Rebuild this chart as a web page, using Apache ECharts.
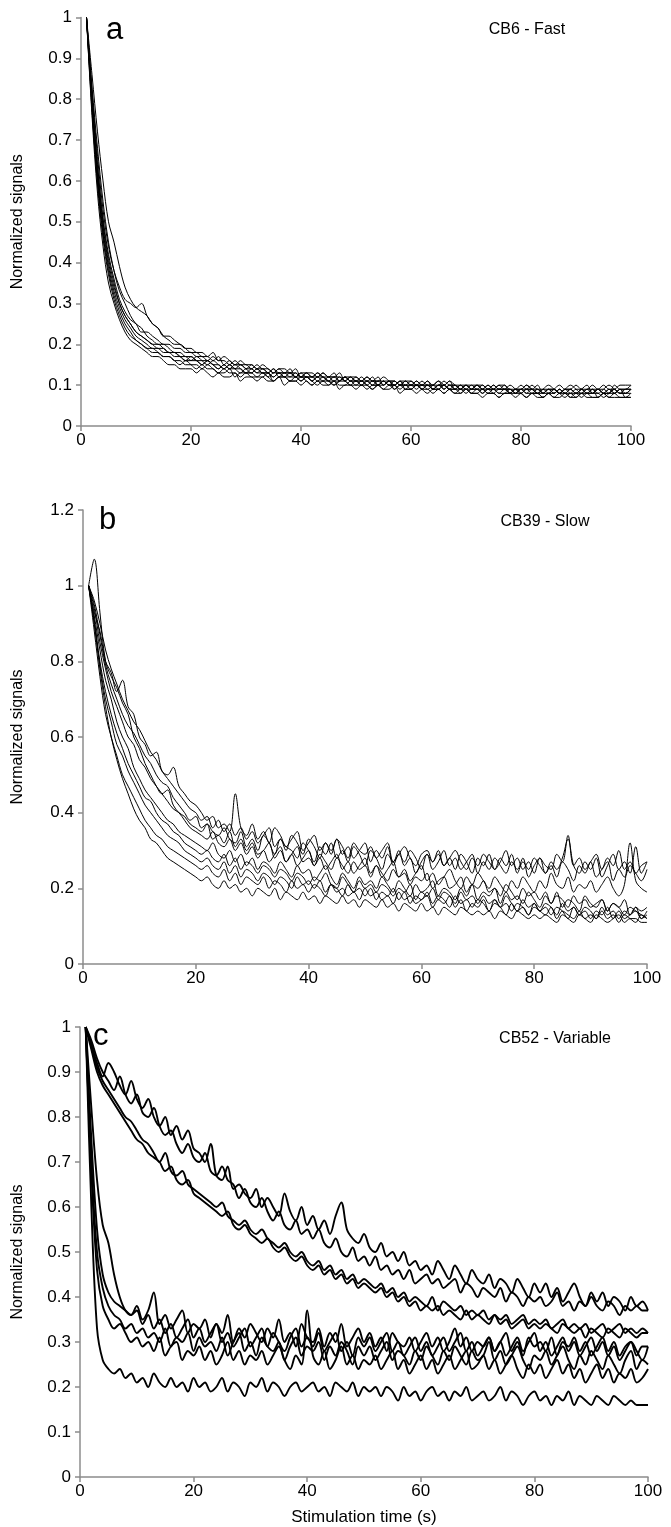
<!DOCTYPE html>
<html><head><meta charset="utf-8">
<script src="https://cdn.jsdelivr.net/npm/echarts@6/dist/echarts.min.js"></script>
<style>html,body{margin:0;padding:0;background:#fff}#c{width:671px;height:1527px}</style>
</head><body><div id="c"></div>
<script>
const times = [1,2,3,4,5,6,7,8,9,10,11,12,13,14,15,16,17,18,19,20,21,22,23,24,25,26,27,28,29,30,31,32,33,34,35,36,37,38,39,40,41,42,43,44,45,46,47,48,49,50,51,52,53,54,55,56,57,58,59,60,61,62,63,64,65,66,67,68,69,70,71,72,73,74,75,76,77,78,79,80,81,82,83,84,85,86,87,88,89,90,91,92,93,94,95,96,97,98,99,100];
const xTicks = [0,20,40,60,80,100];

// Panel a: CB6 - Fast
const a1 = [1,0.79,0.61,0.48,0.39,0.33,0.29,0.26,0.24,0.22,0.21,0.2,0.19,0.19,0.18,0.18,0.17,0.17,0.16,0.16,0.16,0.15,0.16,0.15,0.14,0.15,0.14,0.14,0.15,0.14,0.13,0.14,0.13,0.13,0.14,0.12,0.13,0.13,0.12,0.13,0.12,0.12,0.13,0.12,0.11,0.12,0.12,0.11,0.12,0.11,0.11,0.12,0.11,0.11,0.1,0.11,0.11,0.1,0.11,0.1,0.1,0.11,0.1,0.1,0.11,0.1,0.09,0.1,0.1,0.09,0.1,0.09,0.1,0.09,0.09,0.1,0.09,0.09,0.08,0.09,0.09,0.09,0.08,0.09,0.09,0.08,0.09,0.08,0.09,0.08,0.09,0.08,0.08,0.09,0.08,0.08,0.09,0.08,0.08,0.08];
const a2 = [1,0.86,0.72,0.6,0.5,0.45,0.39,0.34,0.31,0.29,0.28,0.27,0.25,0.24,0.22,0.22,0.21,0.2,0.19,0.19,0.18,0.18,0.17,0.18,0.16,0.17,0.16,0.15,0.16,0.15,0.15,0.14,0.15,0.14,0.13,0.14,0.14,0.13,0.13,0.12,0.13,0.12,0.13,0.12,0.12,0.13,0.11,0.12,0.12,0.11,0.12,0.11,0.11,0.12,0.1,0.11,0.11,0.1,0.11,0.11,0.1,0.1,0.11,0.09,0.1,0.1,0.11,0.09,0.1,0.1,0.09,0.1,0.09,0.1,0.09,0.09,0.1,0.08,0.09,0.09,0.1,0.09,0.08,0.09,0.1,0.09,0.08,0.09,0.09,0.08,0.09,0.1,0.08,0.09,0.09,0.08,0.1,0.09,0.09,0.1];
const a3 = [1,0.76,0.57,0.44,0.35,0.3,0.26,0.23,0.21,0.2,0.19,0.18,0.17,0.17,0.16,0.15,0.15,0.14,0.14,0.14,0.13,0.14,0.13,0.12,0.13,0.12,0.12,0.13,0.11,0.12,0.12,0.11,0.12,0.11,0.11,0.12,0.1,0.11,0.11,0.1,0.11,0.1,0.11,0.1,0.1,0.11,0.09,0.1,0.1,0.09,0.1,0.1,0.09,0.1,0.09,0.09,0.1,0.08,0.09,0.09,0.08,0.09,0.09,0.08,0.09,0.08,0.09,0.08,0.08,0.09,0.08,0.08,0.07,0.08,0.08,0.07,0.08,0.08,0.07,0.08,0.07,0.08,0.07,0.07,0.08,0.07,0.07,0.08,0.07,0.07,0.08,0.07,0.07,0.07,0.08,0.07,0.07,0.07,0.07,0.07];
const a4 = [1,0.82,0.66,0.53,0.44,0.38,0.34,0.31,0.3,0.29,0.3,0.27,0.25,0.24,0.22,0.21,0.2,0.2,0.19,0.18,0.18,0.17,0.17,0.16,0.17,0.15,0.16,0.15,0.15,0.14,0.15,0.14,0.14,0.13,0.14,0.13,0.13,0.14,0.12,0.13,0.13,0.12,0.12,0.13,0.12,0.12,0.11,0.12,0.11,0.12,0.11,0.11,0.12,0.1,0.11,0.11,0.1,0.11,0.1,0.1,0.11,0.1,0.1,0.09,0.1,0.1,0.11,0.1,0.09,0.1,0.09,0.1,0.1,0.09,0.1,0.09,0.09,0.1,0.09,0.08,0.09,0.09,0.1,0.08,0.09,0.09,0.08,0.09,0.1,0.09,0.08,0.09,0.09,0.08,0.09,0.1,0.09,0.08,0.09,0.09];
const a5 = [1,0.8,0.63,0.5,0.41,0.35,0.3,0.27,0.25,0.23,0.22,0.21,0.2,0.19,0.19,0.18,0.18,0.17,0.17,0.16,0.17,0.16,0.15,0.16,0.15,0.14,0.15,0.14,0.14,0.13,0.14,0.13,0.14,0.13,0.12,0.13,0.12,0.13,0.12,0.12,0.12,0.11,0.12,0.12,0.11,0.11,0.12,0.11,0.1,0.11,0.11,0.1,0.11,0.1,0.11,0.1,0.1,0.11,0.09,0.1,0.1,0.09,0.1,0.1,0.09,0.1,0.09,0.09,0.1,0.09,0.09,0.09,0.08,0.09,0.09,0.08,0.09,0.09,0.08,0.09,0.08,0.08,0.09,0.08,0.08,0.09,0.08,0.07,0.08,0.08,0.09,0.08,0.08,0.08,0.07,0.08,0.09,0.08,0.08,0.09];
const a6 = [1,0.77,0.6,0.47,0.38,0.32,0.28,0.25,0.23,0.21,0.2,0.19,0.18,0.18,0.17,0.17,0.16,0.16,0.15,0.15,0.15,0.14,0.15,0.14,0.13,0.14,0.13,0.13,0.12,0.13,0.13,0.12,0.12,0.13,0.11,0.12,0.12,0.11,0.12,0.11,0.12,0.11,0.1,0.11,0.11,0.1,0.11,0.11,0.1,0.1,0.11,0.1,0.09,0.1,0.1,0.11,0.09,0.1,0.1,0.09,0.1,0.09,0.1,0.09,0.09,0.1,0.09,0.08,0.09,0.09,0.08,0.09,0.09,0.08,0.09,0.08,0.08,0.09,0.08,0.08,0.09,0.08,0.08,0.07,0.08,0.08,0.09,0.08,0.08,0.07,0.08,0.08,0.09,0.07,0.08,0.08,0.08,0.09,0.07,0.08];
const a7 = [1,0.81,0.64,0.51,0.42,0.36,0.31,0.28,0.26,0.25,0.23,0.23,0.22,0.21,0.2,0.2,0.19,0.19,0.18,0.18,0.17,0.17,0.16,0.17,0.16,0.16,0.15,0.16,0.15,0.15,0.14,0.15,0.14,0.14,0.13,0.14,0.13,0.13,0.14,0.12,0.13,0.13,0.12,0.13,0.12,0.12,0.13,0.11,0.12,0.12,0.11,0.12,0.11,0.11,0.12,0.11,0.1,0.11,0.11,0.1,0.11,0.1,0.11,0.1,0.1,0.11,0.1,0.1,0.09,0.1,0.1,0.1,0.09,0.1,0.09,0.1,0.1,0.09,0.09,0.1,0.09,0.1,0.09,0.09,0.08,0.09,0.1,0.09,0.09,0.1,0.09,0.09,0.1,0.09,0.1,0.09,0.09,0.1,0.1,0.1];
const a8 = [1,0.78,0.59,0.46,0.37,0.31,0.27,0.24,0.22,0.21,0.2,0.19,0.19,0.18,0.17,0.17,0.16,0.15,0.16,0.15,0.14,0.15,0.14,0.14,0.13,0.13,0.14,0.12,0.13,0.13,0.12,0.12,0.13,0.12,0.11,0.12,0.12,0.11,0.11,0.12,0.11,0.1,0.11,0.11,0.1,0.11,0.1,0.1,0.11,0.1,0.1,0.09,0.1,0.1,0.09,0.1,0.09,0.1,0.09,0.09,0.1,0.09,0.08,0.09,0.09,0.08,0.09,0.09,0.08,0.09,0.08,0.08,0.09,0.08,0.08,0.07,0.08,0.08,0.09,0.08,0.07,0.08,0.08,0.07,0.08,0.07,0.08,0.08,0.07,0.08,0.07,0.08,0.07,0.07,0.08,0.07,0.08,0.07,0.07,0.07];
const a9 = [1,0.83,0.68,0.55,0.45,0.38,0.33,0.3,0.27,0.25,0.24,0.22,0.21,0.2,0.2,0.19,0.18,0.18,0.17,0.17,0.16,0.16,0.16,0.15,0.15,0.14,0.15,0.14,0.13,0.14,0.14,0.13,0.13,0.12,0.13,0.13,0.12,0.12,0.13,0.12,0.12,0.11,0.12,0.11,0.12,0.11,0.11,0.12,0.11,0.11,0.1,0.11,0.1,0.11,0.11,0.1,0.11,0.1,0.1,0.11,0.1,0.1,0.09,0.1,0.11,0.09,0.1,0.1,0.09,0.1,0.09,0.1,0.09,0.09,0.1,0.09,0.09,0.08,0.09,0.09,0.1,0.09,0.09,0.08,0.09,0.09,0.08,0.09,0.08,0.09,0.09,0.08,0.09,0.09,0.08,0.09,0.08,0.09,0.09,0.09];
const a10 = [1,0.8,0.62,0.49,0.4,0.34,0.3,0.27,0.25,0.23,0.22,0.21,0.2,0.2,0.19,0.18,0.18,0.17,0.16,0.17,0.16,0.15,0.16,0.15,0.14,0.15,0.14,0.15,0.14,0.13,0.13,0.14,0.13,0.13,0.12,0.13,0.13,0.12,0.12,0.11,0.12,0.12,0.11,0.12,0.11,0.1,0.11,0.12,0.11,0.11,0.1,0.11,0.1,0.1,0.11,0.1,0.1,0.09,0.1,0.1,0.09,0.1,0.1,0.09,0.1,0.09,0.1,0.09,0.09,0.08,0.09,0.09,0.08,0.09,0.08,0.09,0.09,0.08,0.08,0.09,0.08,0.09,0.08,0.08,0.09,0.08,0.09,0.08,0.09,0.08,0.08,0.09,0.08,0.09,0.08,0.09,0.08,0.09,0.08,0.09];

// Panel b: CB39 - Slow
const b1 = [1,1.07,0.93,0.8,0.76,0.73,0.69,0.66,0.6,0.57,0.53,0.5,0.47,0.45,0.46,0.42,0.4,0.39,0.37,0.36,0.35,0.37,0.33,0.34,0.32,0.35,0.31,0.33,0.3,0.32,0.29,0.3,0.32,0.28,0.3,0.27,0.29,0.31,0.27,0.28,0.26,0.29,0.27,0.25,0.28,0.26,0.24,0.27,0.25,0.26,0.23,0.26,0.24,0.22,0.25,0.23,0.24,0.21,0.23,0.22,0.24,0.2,0.22,0.23,0.2,0.21,0.23,0.19,0.21,0.2,0.22,0.19,0.2,0.18,0.21,0.19,0.17,0.2,0.18,0.19,0.17,0.19,0.16,0.18,0.17,0.15,0.18,0.16,0.17,0.15,0.16,0.17,0.14,0.16,0.15,0.13,0.15,0.14,0.13,0.12];
const b2 = [1,0.93,0.88,0.8,0.77,0.72,0.75,0.68,0.66,0.6,0.58,0.55,0.56,0.51,0.5,0.52,0.47,0.45,0.43,0.42,0.4,0.38,0.39,0.36,0.37,0.35,0.45,0.36,0.34,0.37,0.33,0.35,0.32,0.36,0.34,0.31,0.33,0.35,0.3,0.32,0.34,0.3,0.32,0.29,0.33,0.31,0.28,0.32,0.3,0.29,0.31,0.28,0.3,0.32,0.27,0.29,0.31,0.28,0.26,0.29,0.3,0.27,0.29,0.26,0.28,0.3,0.27,0.25,0.28,0.26,0.29,0.27,0.25,0.28,0.26,0.29,0.24,0.27,0.25,0.28,0.26,0.24,0.27,0.25,0.28,0.33,0.26,0.24,0.27,0.25,0.28,0.23,0.26,0.29,0.25,0.27,0.24,0.31,0.24,0.27];
const b3 = [1,0.9,0.78,0.68,0.6,0.54,0.49,0.45,0.41,0.38,0.36,0.33,0.32,0.3,0.28,0.27,0.26,0.25,0.24,0.23,0.22,0.23,0.21,0.2,0.22,0.2,0.21,0.19,0.2,0.18,0.2,0.19,0.18,0.2,0.17,0.19,0.18,0.17,0.19,0.17,0.18,0.16,0.18,0.17,0.16,0.18,0.16,0.17,0.15,0.17,0.16,0.15,0.17,0.15,0.16,0.14,0.16,0.15,0.14,0.16,0.14,0.15,0.13,0.15,0.14,0.13,0.15,0.14,0.13,0.14,0.13,0.14,0.12,0.14,0.13,0.12,0.14,0.13,0.12,0.13,0.12,0.13,0.12,0.11,0.13,0.12,0.11,0.13,0.12,0.11,0.13,0.12,0.11,0.12,0.13,0.11,0.12,0.12,0.11,0.11];
const b4 = [1,0.92,0.83,0.75,0.7,0.64,0.6,0.57,0.52,0.49,0.46,0.44,0.42,0.4,0.38,0.37,0.35,0.34,0.33,0.32,0.31,0.3,0.32,0.29,0.28,0.3,0.27,0.29,0.26,0.28,0.25,0.27,0.26,0.24,0.27,0.25,0.23,0.26,0.24,0.25,0.22,0.24,0.26,0.23,0.21,0.24,0.22,0.2,0.23,0.21,0.22,0.2,0.23,0.21,0.19,0.22,0.2,0.18,0.21,0.19,0.2,0.22,0.18,0.2,0.19,0.17,0.2,0.18,0.21,0.17,0.19,0.18,0.2,0.16,0.19,0.17,0.18,0.16,0.19,0.17,0.15,0.18,0.16,0.19,0.15,0.17,0.16,0.14,0.18,0.16,0.15,0.17,0.14,0.16,0.15,0.17,0.13,0.15,0.14,0.15];
const b5 = [1,0.95,0.87,0.79,0.74,0.7,0.66,0.63,0.61,0.58,0.55,0.53,0.5,0.48,0.47,0.44,0.42,0.4,0.38,0.39,0.36,0.37,0.35,0.34,0.36,0.33,0.32,0.35,0.31,0.33,0.3,0.34,0.32,0.29,0.33,0.31,0.3,0.28,0.32,0.3,0.27,0.31,0.29,0.32,0.28,0.3,0.27,0.31,0.29,0.26,0.3,0.28,0.25,0.29,0.27,0.3,0.26,0.28,0.24,0.27,0.29,0.25,0.27,0.3,0.26,0.28,0.25,0.27,0.29,0.24,0.27,0.25,0.28,0.26,0.24,0.27,0.25,0.28,0.23,0.26,0.28,0.24,0.26,0.23,0.27,0.25,0.22,0.26,0.24,0.27,0.23,0.25,0.27,0.22,0.25,0.23,0.26,0.24,0.22,0.25];
const b6 = [1,0.91,0.8,0.72,0.66,0.61,0.57,0.53,0.5,0.47,0.44,0.43,0.4,0.38,0.37,0.35,0.34,0.32,0.31,0.3,0.29,0.3,0.28,0.27,0.29,0.26,0.28,0.25,0.27,0.26,0.24,0.26,0.25,0.23,0.25,0.24,0.22,0.24,0.23,0.21,0.23,0.22,0.24,0.21,0.2,0.23,0.21,0.19,0.22,0.2,0.21,0.19,0.21,0.2,0.18,0.2,0.19,0.21,0.17,0.19,0.18,0.2,0.17,0.19,0.18,0.16,0.19,0.17,0.18,0.16,0.18,0.16,0.17,0.15,0.18,0.16,0.14,0.17,0.15,0.16,0.14,0.16,0.15,0.13,0.16,0.14,0.15,0.13,0.15,0.14,0.12,0.15,0.13,0.14,0.12,0.14,0.13,0.15,0.12,0.14];
const b7 = [1,0.94,0.85,0.78,0.72,0.68,0.64,0.6,0.58,0.54,0.52,0.49,0.47,0.45,0.43,0.41,0.4,0.38,0.36,0.35,0.34,0.33,0.35,0.32,0.31,0.33,0.3,0.32,0.29,0.31,0.28,0.3,0.27,0.29,0.31,0.27,0.29,0.26,0.28,0.3,0.26,0.28,0.25,0.27,0.29,0.25,0.27,0.24,0.26,0.28,0.24,0.26,0.23,0.25,0.27,0.23,0.25,0.22,0.24,0.26,0.22,0.24,0.21,0.23,0.25,0.22,0.2,0.23,0.21,0.24,0.22,0.2,0.23,0.21,0.19,0.22,0.2,0.23,0.21,0.19,0.22,0.2,0.24,0.21,0.2,0.23,0.19,0.21,0.2,0.22,0.19,0.21,0.23,0.2,0.18,0.21,0.32,0.22,0.2,0.19];
const b8 = [1,0.9,0.79,0.7,0.64,0.58,0.55,0.51,0.48,0.45,0.42,0.4,0.38,0.36,0.34,0.33,0.32,0.3,0.29,0.28,0.27,0.28,0.26,0.25,0.27,0.24,0.26,0.23,0.25,0.24,0.22,0.24,0.23,0.21,0.23,0.22,0.2,0.23,0.21,0.22,0.2,0.22,0.19,0.21,0.2,0.18,0.21,0.19,0.2,0.18,0.2,0.17,0.19,0.18,0.2,0.17,0.19,0.16,0.18,0.17,0.19,0.16,0.18,0.17,0.15,0.18,0.16,0.17,0.15,0.17,0.16,0.14,0.17,0.15,0.16,0.14,0.16,0.15,0.13,0.16,0.14,0.15,0.13,0.15,0.14,0.12,0.15,0.13,0.14,0.12,0.14,0.13,0.15,0.12,0.14,0.12,0.13,0.14,0.12,0.13];
const b9 = [1,0.96,0.9,0.83,0.78,0.74,0.7,0.67,0.64,0.62,0.59,0.56,0.54,0.51,0.49,0.47,0.45,0.43,0.41,0.4,0.38,0.39,0.36,0.38,0.35,0.37,0.34,0.36,0.33,0.35,0.32,0.34,0.36,0.31,0.33,0.3,0.34,0.32,0.29,0.33,0.31,0.28,0.32,0.3,0.33,0.29,0.31,0.28,0.3,0.32,0.27,0.3,0.28,0.31,0.26,0.29,0.27,0.3,0.28,0.25,0.29,0.27,0.3,0.26,0.28,0.25,0.29,0.27,0.24,0.28,0.26,0.29,0.25,0.27,0.3,0.26,0.28,0.25,0.27,0.24,0.28,0.26,0.25,0.29,0.27,0.34,0.26,0.28,0.25,0.27,0.29,0.25,0.28,0.26,0.3,0.25,0.27,0.24,0.26,0.27];
const b10 = [1,0.88,0.76,0.66,0.6,0.55,0.5,0.47,0.44,0.41,0.38,0.36,0.34,0.33,0.31,0.3,0.29,0.28,0.27,0.26,0.25,0.26,0.24,0.23,0.25,0.22,0.24,0.21,0.23,0.22,0.21,0.23,0.2,0.22,0.21,0.19,0.22,0.2,0.21,0.19,0.21,0.2,0.18,0.21,0.19,0.2,0.18,0.19,0.17,0.2,0.18,0.19,0.17,0.18,0.16,0.19,0.17,0.18,0.16,0.17,0.18,0.15,0.17,0.16,0.18,0.15,0.17,0.14,0.16,0.15,0.17,0.14,0.16,0.15,0.13,0.16,0.14,0.15,0.13,0.15,0.14,0.13,0.15,0.12,0.14,0.13,0.12,0.14,0.12,0.13,0.12,0.14,0.12,0.13,0.11,0.13,0.12,0.11,0.13,0.12];

// Panel c: CB52 - Variable
const c1 = [1,0.96,0.92,0.89,0.92,0.9,0.87,0.85,0.88,0.84,0.82,0.84,0.8,0.78,0.8,0.76,0.78,0.75,0.77,0.73,0.72,0.7,0.74,0.67,0.66,0.69,0.64,0.65,0.63,0.62,0.64,0.6,0.62,0.6,0.58,0.63,0.59,0.57,0.6,0.56,0.58,0.55,0.57,0.54,0.58,0.61,0.55,0.53,0.52,0.54,0.51,0.5,0.52,0.49,0.5,0.48,0.5,0.47,0.48,0.46,0.47,0.45,0.48,0.46,0.44,0.47,0.45,0.43,0.46,0.44,0.43,0.45,0.42,0.44,0.43,0.41,0.44,0.42,0.4,0.43,0.41,0.43,0.4,0.42,0.39,0.41,0.43,0.4,0.38,0.41,0.39,0.41,0.38,0.4,0.39,0.37,0.4,0.38,0.39,0.37];
const c2 = [1,0.97,0.93,0.9,0.88,0.86,0.89,0.85,0.83,0.85,0.81,0.8,0.82,0.78,0.76,0.77,0.74,0.72,0.74,0.71,0.7,0.72,0.68,0.67,0.69,0.66,0.65,0.62,0.64,0.61,0.6,0.62,0.59,0.57,0.59,0.56,0.55,0.57,0.54,0.55,0.53,0.55,0.52,0.51,0.53,0.5,0.49,0.51,0.48,0.49,0.47,0.49,0.46,0.47,0.45,0.46,0.44,0.46,0.43,0.44,0.45,0.43,0.44,0.42,0.43,0.44,0.41,0.43,0.42,0.4,0.42,0.41,0.4,0.42,0.39,0.41,0.4,0.38,0.4,0.39,0.4,0.38,0.39,0.41,0.38,0.39,0.37,0.39,0.38,0.4,0.38,0.37,0.39,0.38,0.36,0.38,0.37,0.38,0.37,0.37];
const c3 = [1,0.96,0.91,0.88,0.86,0.84,0.82,0.8,0.79,0.77,0.75,0.74,0.72,0.7,0.72,0.68,0.67,0.68,0.65,0.64,0.63,0.62,0.61,0.6,0.61,0.58,0.57,0.56,0.57,0.55,0.54,0.55,0.53,0.52,0.51,0.52,0.5,0.49,0.5,0.48,0.47,0.48,0.46,0.47,0.45,0.46,0.44,0.45,0.43,0.44,0.43,0.42,0.43,0.41,0.42,0.4,0.41,0.39,0.4,0.39,0.38,0.4,0.37,0.39,0.38,0.37,0.38,0.36,0.37,0.36,0.37,0.35,0.36,0.35,0.36,0.34,0.35,0.36,0.34,0.35,0.34,0.35,0.33,0.34,0.35,0.33,0.34,0.33,0.34,0.32,0.33,0.34,0.32,0.33,0.34,0.32,0.33,0.32,0.33,0.32];
const c4 = [1,0.95,0.9,0.87,0.85,0.83,0.81,0.79,0.77,0.75,0.74,0.72,0.71,0.7,0.68,0.69,0.66,0.65,0.66,0.63,0.62,0.61,0.6,0.59,0.58,0.59,0.56,0.55,0.56,0.54,0.53,0.52,0.53,0.51,0.5,0.51,0.49,0.48,0.49,0.47,0.46,0.47,0.45,0.46,0.44,0.45,0.43,0.44,0.42,0.43,0.42,0.41,0.42,0.4,0.41,0.39,0.4,0.38,0.39,0.37,0.38,0.37,0.38,0.36,0.37,0.36,0.35,0.37,0.35,0.36,0.35,0.34,0.36,0.34,0.35,0.33,0.34,0.35,0.33,0.34,0.33,0.34,0.33,0.32,0.34,0.33,0.32,0.33,0.31,0.33,0.32,0.31,0.33,0.32,0.31,0.33,0.32,0.31,0.32,0.32];
const c5 = [1,0.6,0.33,0.26,0.24,0.23,0.24,0.22,0.23,0.21,0.22,0.2,0.23,0.21,0.2,0.22,0.2,0.21,0.19,0.22,0.2,0.21,0.19,0.2,0.22,0.19,0.21,0.2,0.18,0.21,0.2,0.22,0.19,0.21,0.2,0.18,0.2,0.21,0.19,0.2,0.21,0.19,0.2,0.18,0.21,0.2,0.19,0.21,0.18,0.2,0.19,0.2,0.18,0.2,0.19,0.17,0.2,0.18,0.19,0.17,0.19,0.2,0.18,0.19,0.17,0.19,0.18,0.2,0.17,0.18,0.19,0.17,0.18,0.2,0.17,0.19,0.18,0.16,0.18,0.19,0.17,0.18,0.16,0.18,0.17,0.19,0.16,0.18,0.17,0.16,0.18,0.17,0.16,0.18,0.17,0.16,0.17,0.16,0.16,0.16];
const c6 = [1,0.75,0.55,0.45,0.41,0.39,0.38,0.37,0.36,0.38,0.35,0.37,0.41,0.34,0.36,0.33,0.35,0.37,0.32,0.34,0.33,0.35,0.31,0.34,0.32,0.36,0.3,0.33,0.31,0.34,0.32,0.3,0.33,0.31,0.35,0.3,0.32,0.29,0.34,0.31,0.3,0.33,0.29,0.32,0.3,0.34,0.29,0.31,0.33,0.3,0.32,0.29,0.31,0.28,0.32,0.3,0.29,0.31,0.28,0.3,0.32,0.29,0.31,0.28,0.3,0.33,0.29,0.31,0.28,0.3,0.29,0.31,0.28,0.3,0.32,0.28,0.3,0.27,0.31,0.29,0.3,0.28,0.31,0.27,0.3,0.29,0.31,0.28,0.3,0.27,0.29,0.31,0.28,0.3,0.27,0.29,0.3,0.28,0.26,0.29];
const c7 = [1,0.7,0.5,0.42,0.38,0.36,0.35,0.33,0.34,0.32,0.33,0.31,0.32,0.3,0.33,0.29,0.31,0.3,0.32,0.28,0.31,0.29,0.3,0.28,0.31,0.27,0.3,0.32,0.28,0.3,0.27,0.31,0.29,0.28,0.3,0.26,0.29,0.31,0.27,0.29,0.28,0.3,0.26,0.29,0.27,0.3,0.28,0.25,0.29,0.27,0.29,0.26,0.28,0.3,0.26,0.28,0.27,0.25,0.28,0.26,0.29,0.27,0.25,0.28,0.26,0.29,0.27,0.25,0.28,0.26,0.27,0.3,0.26,0.28,0.25,0.27,0.29,0.26,0.24,0.27,0.26,0.28,0.25,0.27,0.29,0.26,0.24,0.27,0.25,0.28,0.26,0.24,0.27,0.25,0.23,0.26,0.28,0.24,0.26,0.25];
const c8 = [1,0.68,0.46,0.38,0.35,0.33,0.34,0.32,0.3,0.31,0.29,0.3,0.28,0.31,0.27,0.29,0.3,0.26,0.28,0.27,0.29,0.26,0.28,0.25,0.27,0.3,0.26,0.28,0.25,0.27,0.26,0.28,0.25,0.27,0.29,0.26,0.24,0.27,0.25,0.37,0.27,0.25,0.28,0.24,0.26,0.29,0.25,0.27,0.24,0.26,0.25,0.27,0.24,0.26,0.28,0.24,0.26,0.23,0.25,0.27,0.24,0.26,0.23,0.25,0.27,0.24,0.26,0.28,0.24,0.25,0.27,0.24,0.26,0.23,0.25,0.27,0.24,0.22,0.25,0.23,0.25,0.22,0.24,0.26,0.23,0.25,0.22,0.24,0.21,0.23,0.25,0.22,0.24,0.21,0.23,0.22,0.24,0.21,0.22,0.24];
const c9 = [1,0.82,0.66,0.56,0.52,0.45,0.4,0.37,0.36,0.37,0.34,0.36,0.33,0.35,0.32,0.34,0.31,0.33,0.35,0.31,0.33,0.3,0.32,0.34,0.3,0.32,0.29,0.31,0.33,0.29,0.31,0.33,0.29,0.32,0.3,0.28,0.31,0.33,0.29,0.31,0.29,0.32,0.28,0.3,0.32,0.28,0.3,0.27,0.31,0.29,0.31,0.28,0.3,0.32,0.28,0.3,0.27,0.29,0.31,0.28,0.3,0.27,0.29,0.31,0.28,0.3,0.32,0.28,0.3,0.27,0.29,0.31,0.28,0.3,0.27,0.29,0.31,0.28,0.3,0.32,0.28,0.3,0.27,0.29,0.31,0.28,0.3,0.27,0.29,0.31,0.28,0.3,0.27,0.29,0.26,0.28,0.3,0.27,0.29,0.29];

const panelA = [a1,a2,a3,a4,a5,a6,a7,a8,a9,a10];
const panelB = [b1,b2,b3,b4,b5,b6,b7,b8,b9,b10];
const panelC = [c1,c2,c3,c4,c5,c6,c7,c8,c9];

const panelLetters = ['a','b','c'];
const panelTitles = ['CB6 - Fast','CB39 - Slow','CB52 - Variable'];
const yName = 'Normalized signals';
const xName = 'Stimulation time (s)';

const FONT = '"Liberation Sans", Arial, sans-serif';
const chart = echarts.init(document.getElementById('c'), null, {renderer:'canvas'});

const grids = [
  {left:81, top:17.5, width:550, height:408.5},
  {left:83, top:510, width:564, height:454},
  {left:80, top:1027, width:568, height:450}
];
const yCfg = [{max:1, interval:0.1},{max:1.2, interval:0.2},{max:1, interval:0.1}];
const axisGray = '#8c8c8c';

const xAxes = grids.map((g,i)=>({
  type:'value', gridIndex:i, min:0, max:100, interval:20,
  axisLine:{show:true, lineStyle:{color:axisGray, width:1.5}},
  axisTick:{show:true, inside:false, length:5, lineStyle:{color:axisGray, width:1.5}},
  axisLabel:{color:'#000', fontFamily:FONT, fontSize:17, margin:6},
  splitLine:{show:false}
}));
const yAxes = grids.map((g,i)=>({
  type:'value', gridIndex:i, min:0, max:yCfg[i].max, interval:yCfg[i].interval,
  axisLine:{show:true, lineStyle:{color:axisGray, width:1.5}},
  axisTick:{show:true, inside:false, length:5, lineStyle:{color:axisGray, width:1.5}},
  axisLabel:{color:'#000', fontFamily:FONT, fontSize:17, margin:9},
  splitLine:{show:false}
}));

const series = [];
[panelA, panelB, panelC].forEach((group, gi)=>{
  group.forEach(vals=>{
    series.push({
      type:'line', xAxisIndex:gi, yAxisIndex:gi,
      data: times.map((t,k)=>[t, vals[k]]),
      showSymbol:false, smooth:0.35, silent:true,
      lineStyle:{color:'#000', width: gi===2 ? 1.9 : 1}
    });
  });
});

const graphics = [];
const letterPos = [[106,15],[99,505],[93,1021]];
const titlePos = [[527,30],[545,522],[555,1039]];
grids.forEach((g,i)=>{
  graphics.push({type:'text', left:letterPos[i][0], top:letterPos[i][1], style:{text:panelLetters[i], font:'31px '+FONT, fill:'#000'}});
  graphics.push({type:'text', x:titlePos[i][0], y:titlePos[i][1], style:{text:panelTitles[i], font:'16px '+FONT, fill:'#000', textAlign:'center', textVerticalAlign:'middle'}});
  graphics.push({type:'text', x:18, y:g.top + g.height/2, rotation:Math.PI/2, style:{text:yName, font:'16px '+FONT, fill:'#000', textAlign:'center', textVerticalAlign:'middle'}});
});
graphics.push({type:'text', x:364, y:1517, style:{text:xName, font:'17px '+FONT, fill:'#000', textAlign:'center', textVerticalAlign:'middle'}});

chart.setOption({
  animation:false,
  backgroundColor:'#fff',
  grid: grids.map(g=>Object.assign({containLabel:false}, g)),
  xAxis: xAxes, yAxis: yAxes,
  series: series,
  graphic: graphics
});
</script></body></html>
